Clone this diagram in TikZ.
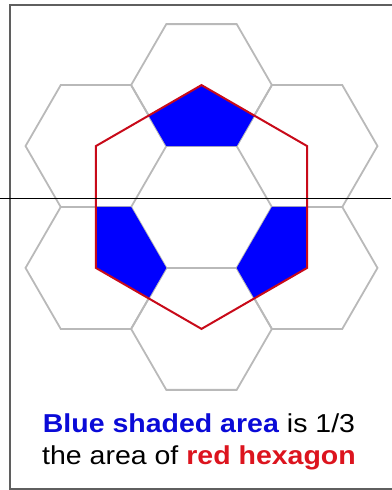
\documentclass[tikz,border=0pt]{standalone}
\usepackage{fontspec}
\setmainfont{Liberation Sans}
\usepackage{tikz}

\definecolor{hexgray}{RGB}{185,185,185}
\definecolor{hexred}{RGB}{200,10,25}
\definecolor{shadeblue}{RGB}{0,0,255}
\definecolor{textblue}{RGB}{10,10,215}
\definecolor{textred}{RGB}{220,20,30}
\definecolor{framegray}{RGB}{95,95,95}

% caption letters are a little wider than Arial
\newcommand{\widecaption}[1]{\scalebox{1.1}[1]{#1}}

\tikzset{
  hexline/.style={draw=hexgray, line width=1.8bp, line join=miter},
  redline/.style={draw=hexred, line width=2bp, line join=miter},
  caption/.style={font=\fontsize{26}{30}\selectfont, anchor=base, inner sep=0pt}
}

\begin{document}
\begin{tikzpicture}[x=1bp, y=1bp]
		\useasboundingbox (0,0) rectangle (391,490);
		
		% Size of one small hexagon and centre of the pattern
		\def\side{70.4}
		\coordinate (ctr) at (201.5,283);
		\def\hexagon{ (0:\side) -- (60:\side) -- (120:\side) -- (180:\side) -- (240:\side) -- (300:\side) -- cycle}
		\def\redhexagon{ (30:121.9) -- (90:121.9) -- (150:121.9) -- (210:121.9) -- (270:121.9) -- (330:121.9) -- cycle}
		
		% Frame round the picture (right side falls outside)
		\draw[framegray, line width=2bp] (400,485) -- (10,485) -- (10,1) -- (400,1);
		
		% Ring of six grey hexagons
		\foreach \a in {30,90,...,330}
			\draw[hexline, shift={(ctr)}, shift={(\a:121.9)}] \hexagon;
		
		% Blue shading: part of every second hexagon inside the red one
		\begin{scope}[shift={(ctr)}]
			\clip \redhexagon;
			\foreach \a in {90,210,330}
				\fill[shadeblue, shift={(\a:121.9)}] \hexagon;
		\end{scope}
		
		% Red hexagon through the centres of the ring
		\draw[redline, shift={(ctr)}] \redhexagon;
		
		% Thin line across
		\draw[black, line width=0.8bp] (0,292) -- (391,292);
		
		% Caption
		\node[caption] (line1) at (199,57) {\widecaption{\textcolor{textblue}{\textbf{Blue shaded area}} is 1/3}};
		\node[caption] (line2) at (199,25) {\widecaption{the area of \textcolor{textred}{\textbf{red hexagon}}}};
\end{tikzpicture}
\end{document}
